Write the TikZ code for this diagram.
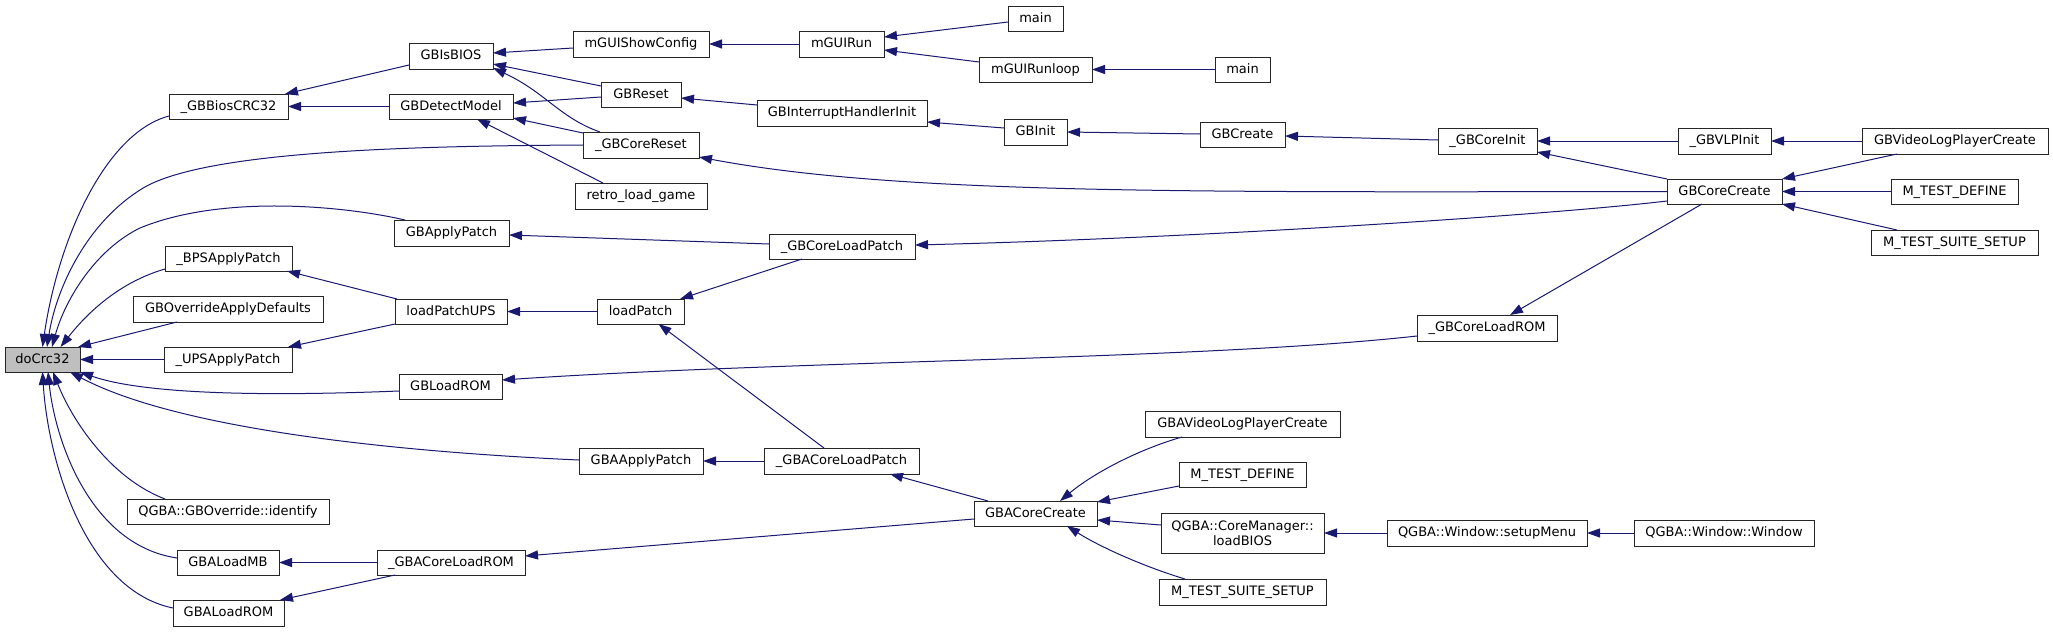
\documentclass[tikz,border=0pt]{standalone}
\usepackage{fontspec}
\newfontfamily\dvs{DejaVu Sans}
\usetikzlibrary{arrows.meta,calc}
\definecolor{mb}{HTML}{191970}
\definecolor{boxgray}{HTML}{BFBFBF}
\newcommand\fnode[7][]{%
 \pgfmathsetmacro\fnX{(#3+#5)/2}%
 \pgfmathsetmacro\fnY{(#4+#6)/2}%
 \pgfmathsetmacro\fnW{#5-#3}%
 \pgfmathsetmacro\fnH{#6-#4}%
 \node[fn,minimum width=\fnW pt,minimum height=\fnH pt,#1] (#2) at (\fnX,\fnY) {#7};}
\begin{document}
\begin{tikzpicture}[x=1pt,y=-1pt,
  fnbase/.style={draw=black!85,line width=1pt,fill=white,inner sep=0pt,outer sep=0pt,
    font=\dvs\fontsize{13}{15}\selectfont,text=black,align=center},
  fn/.style={fnbase,text height=10pt,text depth=3pt},
  e/.style={draw=mb,line width=1pt,-{Triangle[length=13pt,width=9pt,fill=mb]}}]
\fill[white] (0,0) rectangle (2053,632);
\useasboundingbox (0,0) rectangle (2053,632);
% nodes
\fnode[fill=boxgray]{doCrc}{5}{347}{80}{372}{doCrc32}
\fnode{bios}{169}{94}{288}{119}{\_GBBiosCRC32}
\fnode{isbios}{409}{43}{493}{69}{GBIsBIOS}
\fnode{detect}{389}{94}{513}{119}{GBDetectModel}
\fnode{apply}{394}{220}{509}{246}{GBApplyPatch}
\fnode{bps}{165}{246}{292}{271}{\_BPSApplyPatch}
\fnode{ovr}{133}{296}{323}{322}{GBOverrideApplyDefaults}
\fnode{ups}{395}{299}{507}{324}{loadPatchUPS}
\fnode{upsA}{164}{347}{292}{372}{\_UPSApplyPatch}
\fnode{gbload}{399}{374}{502}{399}{GBLoadROM}
\fnode{ident}{127}{499}{329}{524}{QGBA::GBOverride::identify}
\fnode{mb}{177}{550}{279}{575}{GBALoadMB}
\fnode{gbarom}{377}{550}{525}{575}{\_GBACoreLoadROM}
\fnode{gbaload}{173}{600}{284}{626}{GBALoadROM}
\fnode{showcfg}{573}{31}{709}{57}{mGUIShowConfig}
\fnode{run}{799}{31}{884}{57}{mGUIRun}
\fnode{mainA}{1008}{6}{1063}{31}{main}
\fnode{runloop}{979}{57}{1092}{82}{mGUIRunloop}
\fnode{mainB}{1215}{57}{1270}{82}{main}
\fnode{reset}{601}{82}{681}{107}{GBReset}
\fnode{irq}{757}{100}{927}{126}{GBInterruptHandlerInit}
\fnode{corereset}{583}{132}{699}{158}{\_GBCoreReset}
\fnode{retro}{575}{183}{707}{209}{retro\_load\_game}
\fnode{init}{1004}{119}{1067}{145}{GBInit}
\fnode{loadpatch}{769}{234}{915}{259}{\_GBCoreLoadPatch}
\fnode{lp}{597}{299}{684}{324}{loadPatch}
\fnode{gbaapply}{579}{448}{703}{474}{GBAApplyPatch}
\fnode{gbalp}{764}{448}{919}{474}{\_GBACoreLoadPatch}
\fnode{gbacc}{974}{501}{1097}{526}{GBACoreCreate}
\fnode{create}{1200}{122}{1285}{147}{GBCreate}
\fnode{coreinit}{1438}{128}{1537}{154}{\_GBCoreInit}
\fnode{gbrom}{1417}{315}{1557}{341}{\_GBCoreLoadROM}
\fnode{gbavlp}{1145}{411}{1340}{437}{GBAVideoLogPlayerCreate}
\fnode{mtdB}{1179}{462}{1306}{487}{M\_TEST\_DEFINE}
\node[fnbase,minimum width=163pt,minimum height=40pt] (biosB) at (1242.5,533) {QGBA::CoreManager::\\loadBIOS};
\fnode{mtsB}{1159}{579}{1326}{605}{M\_TEST\_SUITE\_SETUP}
\fnode{setup}{1387}{520}{1587}{546}{QGBA::Window::setupMenu}
\fnode{vlp}{1678}{128}{1771}{154}{\_GBVLPInit}
\fnode{gbvlp}{1862}{128}{2048}{154}{GBVideoLogPlayerCreate}
\fnode{gbcc}{1667}{179}{1782}{204}{GBCoreCreate}
\fnode{mtdA}{1891}{179}{2018}{204}{M\_TEST\_DEFINE}
\fnode{mtsA}{1871}{230}{2038}{255}{M\_TEST\_SUITE\_SETUP}
\fnode{win}{1634}{520}{1814}{546}{QGBA::Window::Window}
% edges into doCrc32
\draw[e] ($(bios.south west)+(0,-3)$) .. controls (105,133) and (58,240) .. (doCrc.north);
\draw[e] (corereset.west) .. controls (420,146) and (200,150) .. (140,190) .. controls (85,225) and (56,290) .. ($(doCrc.north)+(4.5,0)$);
\draw[e] ($(apply.north west)+(11,0)$) .. controls (340,205) and (220,195) .. (140,228) .. controls (95,250) and (65,300) .. ($(doCrc.north)+(9.5,0)$);
\draw[e] ($(bps.south west)+(0,-2)$) .. controls (120,282) and (88,312) .. ($(doCrc.north)+(18,0)$);
\draw[e] ($(ovr.south west)+(44,0)$) -- ($(doCrc.north east)+(-2,0)$);
\draw[e] (upsA.west) -- (doCrc.east);
\draw[e] ($(gbload.west)+(0,4.5)$) .. controls (250,397) and (140,393) .. (doCrc.south east);
\draw[e] ($(gbaapply.west)+(0,-1)$) .. controls (400,452) and (180,430) .. ($(doCrc.south)+(27.5,0)$);
\draw[e] ($(ident.north west)+(38,0)$) .. controls (110,478) and (72,420) .. ($(doCrc.south)+(10.5,0)$);
\draw[e] ($(mb.west)+(0,-4.5)$) .. controls (90,545) and (55,440) .. ($(doCrc.south)+(5.5,0)$);
\draw[e] ($(gbaload.west)+(0,-5)$) .. controls (85,590) and (48,460) .. (doCrc.south);
% second level
\draw[e] ($(isbios.south west)+(0,-4)$) -- ($(bios.north east)+(-3,0)$);
\draw[e] (detect.west) -- (bios.east);
\draw[e] ($(showcfg.west)+(0,4)$) -- ($(isbios.east)+(0,-3)$);
\draw[e] ($(reset.north west)+(0,4)$) -- ($(isbios.east)+(0,8)$);
\draw[e] ($(corereset.north west)+(17,0)$) .. controls (560,118) and (545,92) .. ($(isbios.south east)+(0,-1)$);
\draw[e] ($(reset.west)+(0,2.5)$) -- ($(detect.east)+(0,-3.5)$);
\draw[e] ($(corereset.north west)+(0,1)$) -- ($(detect.south east)+(0,-1)$);
\draw[e] ($(retro.north west)+(28,0)$) -- ($(detect.south)+(26,0)$);
\draw[e] (run.west) -- (showcfg.east);
\draw[e] ($(mainA.west)+(0,3.5)$) -- ($(run.east)+(0,-7)$);
\draw[e] ($(runloop.west)+(0,-7.5)$) -- ($(run.east)+(0,6)$);
\draw[e] (mainB.west) -- (runloop.east);
\draw[e] ($(irq.west)+(0,-8)$) -- ($(reset.east)+(0,3.5)$);
\draw[e] ($(init.west)+(0,-4)$) -- ($(irq.east)+(0,9)$);
\draw[e] ($(create.west)+(0,-0.5)$) -- (init.east);
\draw[e] ($(coreinit.west)+(0,-1)$) -- ($(create.east)+(0,1.5)$);
\draw[e] (vlp.west) -- (coreinit.east);
\draw[e] (gbcc.north west) -- ($(coreinit.south east)+(0,-2)$);
\draw[e] (gbvlp.west) -- (vlp.east);
\draw[e] ($(gbvlp.south west)+(35,0)$) -- (gbcc.north east);
\draw[e] (mtdA.west) -- (gbcc.east);
\draw[e] ($(mtsA.north west)+(26,0)$) -- (gbcc.south east);
\draw[e] (gbcc.west) .. controls (1200,192) and (900,195) .. ($(corereset.south east)+(0,-1)$);
\draw[e] ($(gbcc.south west)+(0,-3)$) .. controls (1550,215) and (1200,238) .. ($(loadpatch.east)+(0,-1.5)$);
\draw[e] ($(loadpatch.west)+(0,-2.5)$) -- ($(apply.east)+(0,2)$);
\draw[e] ($(gbcc.south)+(-22.5,0)$) -- ($(gbrom.north)+(23,0)$);
\draw[e] ($(gbrom.west)+(0,8)$) .. controls (1200,360) and (800,360) .. ($(gbload.east)+(0,-6.5)$);
\draw[e] ($(ups.north west)+(2,0)$) -- ($(bps.south east)+(-5,0)$);
\draw[e] (ups.south west) -- ($(upsA.north east)+(-4,0)$);
\draw[e] (lp.west) -- (ups.east);
\draw[e] ($(loadpatch.south west)+(33,0)$) -- ($(lp.north east)+(-4,0)$);
\draw[e] ($(gbalp.north west)+(60,0)$) -- ($(lp.south)+(18,0)$);
\draw[e] (gbalp.west) -- (gbaapply.east);
\draw[e] ($(gbacc.north west)+(14,0)$) -- ($(gbalp.south east)+(-29,0)$);
\draw[e] ($(gbacc.west)+(0,5.5)$) -- ($(gbarom.east)+(0,-6.5)$);
\draw[e] (gbarom.west) -- (mb.east);
\draw[e] ($(gbarom.south west)+(18,0)$) -- ($(gbaload.north east)+(-4,0)$);
\draw[e] ($(gbavlp.south west)+(37,0)$) .. controls (1140,449) and (1095,472) .. ($(gbacc.north)+(24.5,0)$);
\draw[e] ($(mtdB.south west)+(0,-1)$) -- ($(gbacc.north east)+(0,1)$);
\draw[e] ($(biosB.west)+(0,-8)$) -- ($(gbacc.east)+(0,6.5)$);
\draw[e] ($(mtsB.north west)+(26,0)$) .. controls (1145,567) and (1100,547) .. ($(gbacc.south)+(31.5,0)$);
\draw[e] (setup.west) -- (biosB.east);
\draw[e] (win.west) -- (setup.east);
\end{tikzpicture}
\end{document}
